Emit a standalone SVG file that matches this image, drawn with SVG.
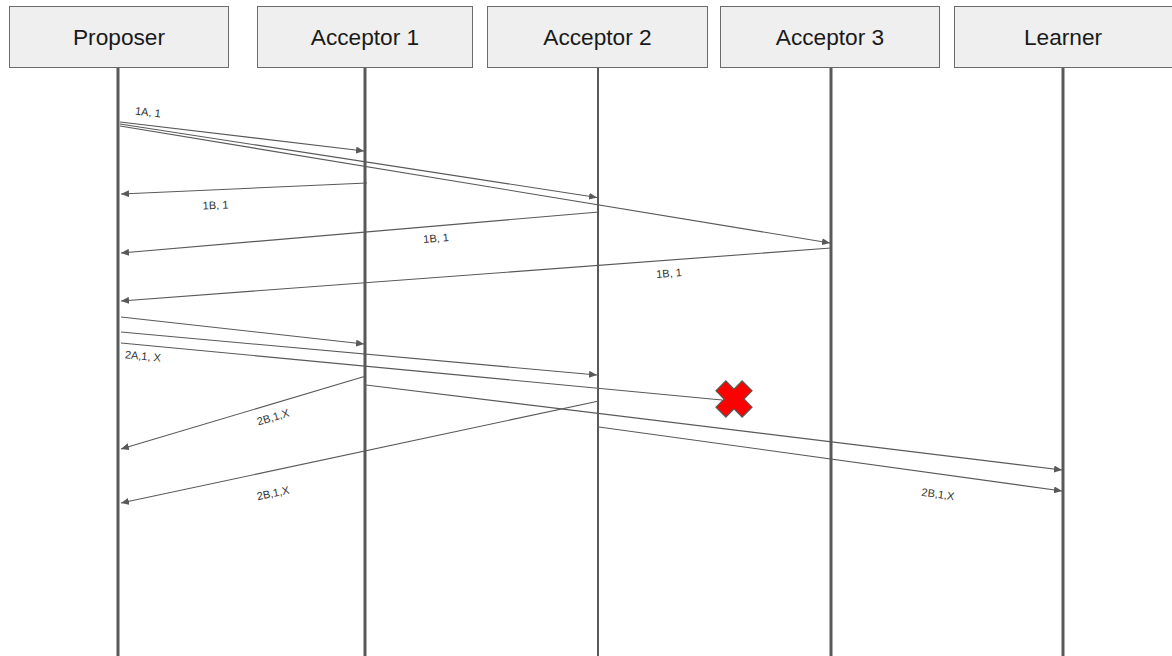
<svg xmlns="http://www.w3.org/2000/svg" width="1172" height="656" viewBox="0 0 1172 656">
  <style>
    .box { fill: #efefef; stroke: #6b6b6b; stroke-width: 1; }
    .title { font-family: "Liberation Sans", Arial, sans-serif; font-size: 22.7px; fill: #1a1a1a; text-anchor: middle; }
    .life { stroke: #595959; stroke-width: 3; }
    .msg { stroke: #595959; stroke-width: 1.1; fill: none; }
    .arrow { marker-end: url(#head); }
    .lbl { font-family: "Liberation Sans", Arial, sans-serif; font-size: 11px; fill: #333; text-anchor: middle; }
  </style>
  <defs>
    <marker id="head" markerUnits="userSpaceOnUse" markerWidth="8" markerHeight="7" refX="8" refY="3.5" orient="auto">
      <path d="M0,0 L8,3.5 L0,7 z" fill="#595959"/>
    </marker>
  </defs>
  <rect width="1172" height="656" fill="#ffffff"/>

  <!-- participants with their lifelines -->
  <g id="proposer">
    <line class="life" x1="118" y1="68" x2="118" y2="656"/>
    <rect class="box" x="9.5" y="6.5" width="219" height="61"/>
    <text class="title" x="119" y="45">Proposer</text>
  </g>
  <g id="acceptor1">
    <line class="life" x1="365" y1="68" x2="365" y2="656"/>
    <rect class="box" x="257.5" y="6.5" width="215" height="61"/>
    <text class="title" x="365" y="45">Acceptor 1</text>
  </g>
  <g id="acceptor2">
    <line class="life" x1="598" y1="68" x2="598" y2="656" style="stroke-width:2"/>
    <rect class="box" x="487.5" y="6.5" width="220" height="61"/>
    <text class="title" x="597.5" y="45">Acceptor 2</text>
  </g>
  <g id="acceptor3">
    <line class="life" x1="831" y1="68" x2="831" y2="656"/>
    <rect class="box" x="720.5" y="6.5" width="219" height="61"/>
    <text class="title" x="830" y="45">Acceptor 3</text>
  </g>
  <g id="learner">
    <line class="life" x1="1063" y1="68" x2="1063" y2="656"/>
    <rect class="box" x="954.5" y="6.5" width="220" height="61"/>
    <text class="title" x="1063" y="45">Learner</text>
  </g>

  <!-- messages -->
  <g id="connectors">
    <!-- phase 1a: prepare -->
    <line class="msg arrow" x1="120" y1="122" x2="364" y2="151"/>
    <line class="msg arrow" x1="120" y1="124" x2="597" y2="197.5"/>
    <line class="msg arrow" x1="120" y1="126" x2="830" y2="243"/>
    <!-- phase 1b: promise -->
    <line class="msg arrow" x1="367" y1="183" x2="121" y2="194"/>
    <line class="msg arrow" x1="599" y1="212" x2="121" y2="253"/>
    <line class="msg arrow" x1="831" y1="248" x2="121" y2="301"/>
    <!-- phase 2a: accept -->
    <line class="msg arrow" x1="121" y1="317" x2="364" y2="344"/>
    <line class="msg arrow" x1="121" y1="332" x2="597" y2="375"/>
    <line class="msg" x1="121" y1="343" x2="722" y2="400"/>
    <!-- phase 2b: accepted -->
    <line class="msg arrow" x1="366" y1="376" x2="121" y2="449"/>
    <line class="msg arrow" x1="599" y1="401" x2="121" y2="503"/>
    <line class="msg arrow" x1="366" y1="385" x2="1062" y2="470"/>
    <line class="msg arrow" x1="599" y1="427" x2="1062" y2="491"/>
  </g>

  <!-- message labels -->
  <g id="labels">
    <text class="lbl" x="148" y="116" transform="rotate(6.7 148 112)">1A, 1</text>
    <text class="lbl" x="215.5" y="209" transform="rotate(-2.6 215.5 205)">1B, 1</text>
    <text class="lbl" x="436" y="242" transform="rotate(-4.9 436 238)">1B, 1</text>
    <text class="lbl" x="669" y="277" transform="rotate(-4.3 669 273)">1B, 1</text>
    <text class="lbl" x="143" y="360" transform="rotate(5.4 143 356)">2A,1, X</text>
    <text class="lbl" x="273" y="421" transform="rotate(-16.7 273 417)">2B,1,X</text>
    <text class="lbl" x="273" y="497" transform="rotate(-12 273 493)">2B,1,X</text>
    <text class="lbl" x="938" y="498" transform="rotate(7.8 938 494)">2B,1,X</text>
  </g>

  <!-- lost message marker -->
  <g id="lost">
    <polygon transform="translate(734 399) rotate(45)" fill="#ff0000" stroke="#595959" stroke-width="1.2"
      points="-7,-18.5 7,-18.5 7,-7 18.5,-7 18.5,7 7,7 7,18.5 -7,18.5 -7,7 -18.5,7 -18.5,-7 -7,-7"/>
  </g>
</svg>
